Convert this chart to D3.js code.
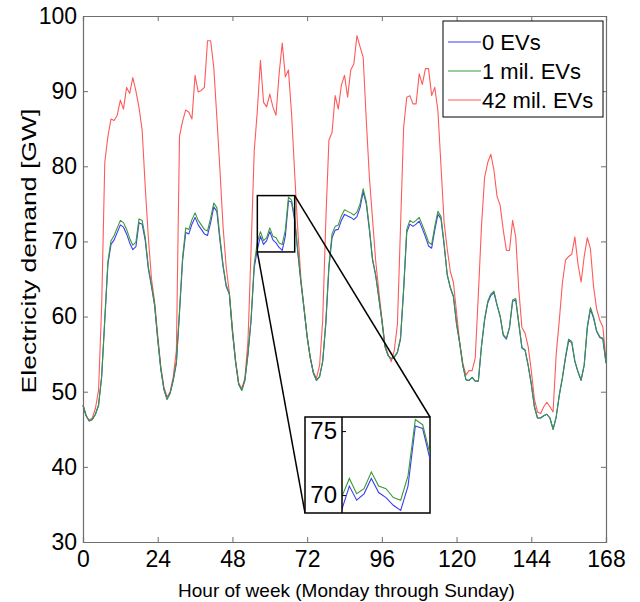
<!DOCTYPE html>
<html>
<head>
<meta charset="utf-8">
<script src="https://cdn.jsdelivr.net/npm/d3@7"></script>
<style>
  html, body { margin: 0; padding: 0; background: #fff; }
  svg { display: block; }
  text { font-family: "Liberation Sans", Arial, sans-serif; fill: #000; }
</style>
</head>
<body>
<svg id="chart" width="640" height="602"></svg>
<script>
// ---------------- data ----------------
const hours = d3.range(0, 169);
const seriesNames = ["0 EVs", "1 mil. EVs", "42 mil. EVs"];
const xTicks = [0, 24, 48, 72, 96, 120, 144, 168];
const yTicks = [30, 40, 50, 60, 70, 80, 90, 100];
const insetTicks = [70, 75];
const zoomHours = [56, 68];
const zoomDemand = [68.6, 76.1];

const demand0 = [
  48.2, 46.8, 46.1, 46.3, 47.0, 48.2, 52.0, 59.5, 67.0, 69.6, 70.2, 71.2, 72.2, 71.9, 71.0, 69.8, 68.9, 69.3, 72.5, 72.3, 70.1, 66.3, 64.0, 61.5,
  57.0, 53.0, 50.3, 49.0, 49.8, 51.5, 53.8, 60.5, 67.5, 71.2, 71.0, 72.3, 73.2, 72.2, 71.6, 71.0, 70.8, 72.5, 74.6, 74.0, 70.1, 66.6, 64.0, 63.0,
  58.0, 54.0, 51.0, 50.2, 51.5, 55.0, 59.5, 66.5, 68.9, 70.7, 69.6, 70.1, 71.3, 70.2, 69.8, 69.2, 68.8, 70.7, 75.4, 75.2, 72.8, 68.5, 64.5, 61.0,
  57.3, 54.5, 52.5, 51.5, 52.0, 54.0, 59.0, 66.5, 70.5, 71.5, 71.6, 72.8, 73.6, 73.4, 73.2, 72.9, 73.3, 74.5, 76.6, 75.0, 71.5, 67.5, 65.5, 62.5,
  59.5, 56.0, 54.8, 54.4, 54.6, 55.2, 57.0, 63.5, 71.2, 72.3, 72.0, 72.3, 72.7, 71.7, 70.6, 69.4, 69.1, 71.5, 73.6, 73.0, 69.5, 65.5, 63.8, 62.6,
  59.0, 56.5, 53.5, 51.6, 51.5, 51.9, 51.4, 51.4, 56.0, 59.5, 61.8, 62.8, 63.2, 61.5, 60.0, 57.5, 57.0, 58.5, 62.0, 62.2, 59.0, 55.8, 55.5, 53.5,
  51.0, 48.0, 46.5, 46.5, 46.8, 47.0, 46.5, 45.0, 46.6, 49.5, 51.8, 54.5, 56.8, 56.5, 54.0, 52.6, 51.5, 53.5, 58.5, 61.0, 59.8, 58.0, 57.2, 57.0,
  53.8
];
const demand1 = [
  48.2, 46.8, 46.1, 46.3, 47.0, 48.2, 52.1, 59.7, 67.3, 70.1, 70.8, 71.8, 72.8, 72.5, 71.6, 70.4, 69.5, 69.9, 73.0, 72.8, 70.5, 66.6, 64.2, 61.6,
  57.0, 53.0, 50.3, 49.0, 49.8, 51.6, 54.0, 60.8, 67.9, 71.8, 71.6, 72.9, 73.8, 72.8, 72.2, 71.6, 71.4, 73.1, 75.1, 74.5, 70.5, 66.9, 64.2, 63.1,
  58.0, 54.0, 51.0, 50.2, 51.5, 55.1, 59.8, 67.0, 69.9, 71.3, 70.1, 70.5, 71.8, 70.7, 70.5, 69.8, 69.6, 71.5, 75.9, 75.5, 73.2, 68.8, 64.7, 61.1,
  57.3, 54.5, 52.5, 51.5, 52.0, 54.1, 59.3, 66.9, 71.0, 72.0, 72.2, 73.4, 74.2, 74.0, 73.8, 73.5, 73.9, 75.0, 77.0, 75.3, 71.8, 67.7, 65.6, 62.6,
  59.5, 56.0, 54.8, 54.4, 54.6, 55.3, 57.2, 63.8, 71.6, 72.8, 72.5, 72.8, 73.2, 72.2, 71.1, 69.9, 69.6, 72.0, 74.0, 73.3, 69.7, 65.6, 63.9, 62.7,
  59.0, 56.5, 53.5, 51.6, 51.5, 51.9, 51.4, 51.5, 56.1, 59.7, 62.0, 63.0, 63.4, 61.6, 60.1, 57.6, 57.1, 58.6, 62.2, 62.4, 59.1, 55.9, 55.6, 53.5,
  51.0, 48.0, 46.5, 46.5, 46.8, 47.0, 46.5, 45.0, 46.7, 49.6, 51.9, 54.7, 57.0, 56.7, 54.1, 52.7, 51.6, 53.6, 58.7, 61.2, 60.0, 58.1, 57.3, 57.1,
  53.8
];
const demand42 = [
  48.2, 46.8, 46.2, 46.5, 47.8, 50.2, 61.5, 80.5, 84.0, 86.3, 86.1, 86.8, 88.8, 87.6, 90.5, 89.7, 91.8, 90.0, 87.8, 84.8, 77.2, 70.5, 65.0, 62.0,
  57.5, 53.3, 50.6, 49.3, 50.0, 52.0, 55.5, 84.0, 86.0, 87.5, 87.2, 86.3, 92.1, 89.9, 90.1, 90.5, 96.7, 96.7, 93.2, 86.5, 79.4, 71.9, 66.6, 63.2,
  58.5, 54.2, 51.2, 50.4, 51.8, 56.8, 69.0, 82.0, 87.4, 94.1, 88.5, 87.9, 89.6, 87.9, 86.8, 92.3, 96.4, 91.9, 92.8, 87.0, 79.0, 71.5, 65.0, 61.2,
  57.4, 54.6, 52.6, 51.8, 53.5, 59.5, 72.8, 83.5, 84.5, 89.4, 87.6, 90.8, 92.1, 89.2, 92.8, 93.6, 97.4, 95.9, 94.5, 86.1, 78.5, 73.0, 67.5, 63.5,
  59.8, 56.2, 55.0, 54.0, 55.5, 59.0, 72.0, 85.2, 89.2, 89.4, 88.3, 88.3, 92.3, 90.9, 93.0, 93.0, 89.4, 90.5, 87.4, 80.0, 72.5, 69.0, 66.0, 64.5,
  60.5, 56.5, 53.8, 52.2, 52.8, 52.8, 54.5, 63.0, 72.0, 78.5, 80.5, 81.6, 79.5, 76.0, 74.8, 71.5, 68.8, 68.8, 72.8, 70.6, 63.5, 58.5, 57.8, 56.0,
  52.8, 49.0, 47.3, 47.1, 48.0, 48.6, 48.0, 47.3, 55.0, 59.5, 64.5, 67.5, 68.0, 68.3, 70.6, 67.0, 64.6, 68.0, 70.5, 69.0, 64.0, 61.0, 59.5, 58.6,
  54.2
];
const seriesColors = ["#3c3cf5", "#3a9a3a", "#ff5a5a"];

// ---------------- layout ----------------
const svg = d3.select("#chart");
const plot = { left: 83, right: 606, top: 16, bottom: 542 };
const x = d3.scaleLinear().domain([0, 168]).range([plot.left, plot.right]);
const y = d3.scaleLinear().domain([30, 100]).range([plot.bottom, plot.top]);
const axisColor = "#6e6e6e";

svg.append("rect").attr("width", 640).attr("height", 602).attr("fill", "#fff");

const allSeries = [demand0, demand1, demand42];
const line = d3.line().x((d, i) => x(hours[i])).y(d => y(d));

// draw lines: red, then blue, then green on top
const order = [2, 0, 1];
const gLines = svg.append("g");
order.forEach(k => {
  gLines.append("path")
    .datum(allSeries[k])
    .attr("d", line)
    .attr("fill", "none")
    .attr("stroke", seriesColors[k])
    .attr("stroke-width", 1.1)
    .attr("stroke-linejoin", "round");
});

// axes (inward ticks, box)
const tickLen = 5;
const bottomAxis = d3.axisBottom(x).tickValues(xTicks).tickSize(-tickLen).tickPadding(9).tickFormat(d3.format("d"));
const topAxis = d3.axisTop(x).tickValues(xTicks).tickSize(-tickLen).tickFormat("");
const leftAxis = d3.axisLeft(y).tickValues(yTicks).tickSize(-tickLen).tickPadding(6).tickFormat(d3.format("d"));
const rightAxis = d3.axisRight(y).tickValues(yTicks).tickSize(-tickLen).tickFormat("");

function styleAxis(g) {
  g.select(".domain").attr("stroke", axisColor).attr("stroke-width", 1.2);
  g.selectAll(".tick line").attr("stroke", axisColor).attr("stroke-width", 1);
  g.selectAll(".tick text").attr("font-family", "Liberation Sans, Arial, sans-serif").attr("font-size", 23).attr("fill", "#000");
}
svg.append("g").attr("transform", `translate(0,${plot.bottom})`).call(bottomAxis).call(styleAxis);
svg.append("g").attr("transform", `translate(0,${plot.top})`).call(topAxis).call(styleAxis);
svg.append("g").attr("transform", `translate(${plot.left},0)`).call(leftAxis).call(styleAxis);
svg.append("g").attr("transform", `translate(${plot.right},0)`).call(rightAxis).call(styleAxis);

// axis titles
svg.append("text")
  .attr("x", (plot.left + plot.right) / 2 + 2).attr("y", 597)
  .attr("text-anchor", "middle").attr("font-size", 19)
  .text("Hour of week (Monday through Sunday)");
svg.append("text")
  .attr("transform", `translate(36,${(plot.top + plot.bottom) / 2 - 28}) rotate(-90)`)
  .attr("text-anchor", "middle").attr("font-size", 21)
  .attr("textLength", 285).attr("lengthAdjust", "spacingAndGlyphs")
  .text("Electricity demand [GW]");

// ---------------- zoom rectangle + connectors ----------------
const zr = { x0: x(zoomHours[0]), x1: x(zoomHours[1]), y0: y(zoomDemand[1]), y1: y(zoomDemand[0]) };
const inset = { outerLeft: 305, left: 342, right: 430, top: 417, bottom: 513 };

svg.append("line").attr("x1", zr.x0).attr("y1", zr.y1).attr("x2", inset.outerLeft).attr("y2", inset.bottom)
  .attr("stroke", "#000").attr("stroke-width", 1.5);
svg.append("line").attr("x1", zr.x1).attr("y1", zr.y0).attr("x2", inset.right).attr("y2", inset.top)
  .attr("stroke", "#000").attr("stroke-width", 1.5);
svg.append("rect").attr("x", zr.x0).attr("y", zr.y0).attr("width", zr.x1 - zr.x0).attr("height", zr.y1 - zr.y0)
  .attr("fill", "none").attr("stroke", "#000").attr("stroke-width", 1.5);

// ---------------- inset ----------------
const xi = d3.scaleLinear().domain(zoomHours).range([inset.left, inset.right]);
const yi = d3.scaleLinear().domain(zoomDemand).range([inset.bottom, inset.top]);
const gi = svg.append("g");
gi.append("rect").attr("x", inset.outerLeft).attr("y", inset.top)
  .attr("width", inset.right - inset.outerLeft).attr("height", inset.bottom - inset.top)
  .attr("fill", "#fff").attr("stroke", "#000").attr("stroke-width", 1.5);
svg.append("clipPath").attr("id", "insetClip").append("rect")
  .attr("x", inset.left).attr("y", inset.top).attr("width", inset.right - inset.left).attr("height", inset.bottom - inset.top);
const lineI = d3.line().defined((d, i) => hours[i] >= zoomHours[0] && hours[i] <= zoomHours[1])
  .x((d, i) => xi(hours[i])).y(d => yi(d));
[0, 1].forEach(k => {
  gi.append("path").datum(allSeries[k]).attr("d", lineI).attr("clip-path", "url(#insetClip)")
    .attr("fill", "none").attr("stroke", seriesColors[k]).attr("stroke-width", 1.1);
});
const insetAxis = d3.axisLeft(yi).tickValues(insetTicks).tickSize(-4).tickPadding(5).tickFormat(d3.format("d"));
gi.append("g").attr("transform", `translate(${inset.left},0)`).call(insetAxis)
  .call(g => {
    g.select(".domain").attr("stroke", "#000").attr("stroke-width", 1.5).attr("d", `M0,${inset.top}V${inset.bottom}`);
    g.selectAll(".tick line").attr("stroke", "#000");
    g.selectAll(".tick text").attr("font-family", "Liberation Sans, Arial, sans-serif").attr("font-size", 24).attr("fill", "#000");
  });

// ---------------- legend ----------------
const lg = svg.append("g");
lg.append("rect").attr("x", 443).attr("y", 21).attr("width", 160).attr("height", 96)
  .attr("fill", "#fff").attr("stroke", "#000").attr("stroke-width", 1);
seriesNames.forEach((name, i) => {
  const yy = 42 + i * 29;
  lg.append("line").attr("x1", 448).attr("x2", 481).attr("y1", yy).attr("y2", yy)
    .attr("stroke", seriesColors[i]).attr("stroke-width", 1.1);
  lg.append("text").attr("x", 482).attr("y", yy).attr("dy", "0.36em").attr("font-size", 22).text(name);
});
</script>
</body>
</html>
